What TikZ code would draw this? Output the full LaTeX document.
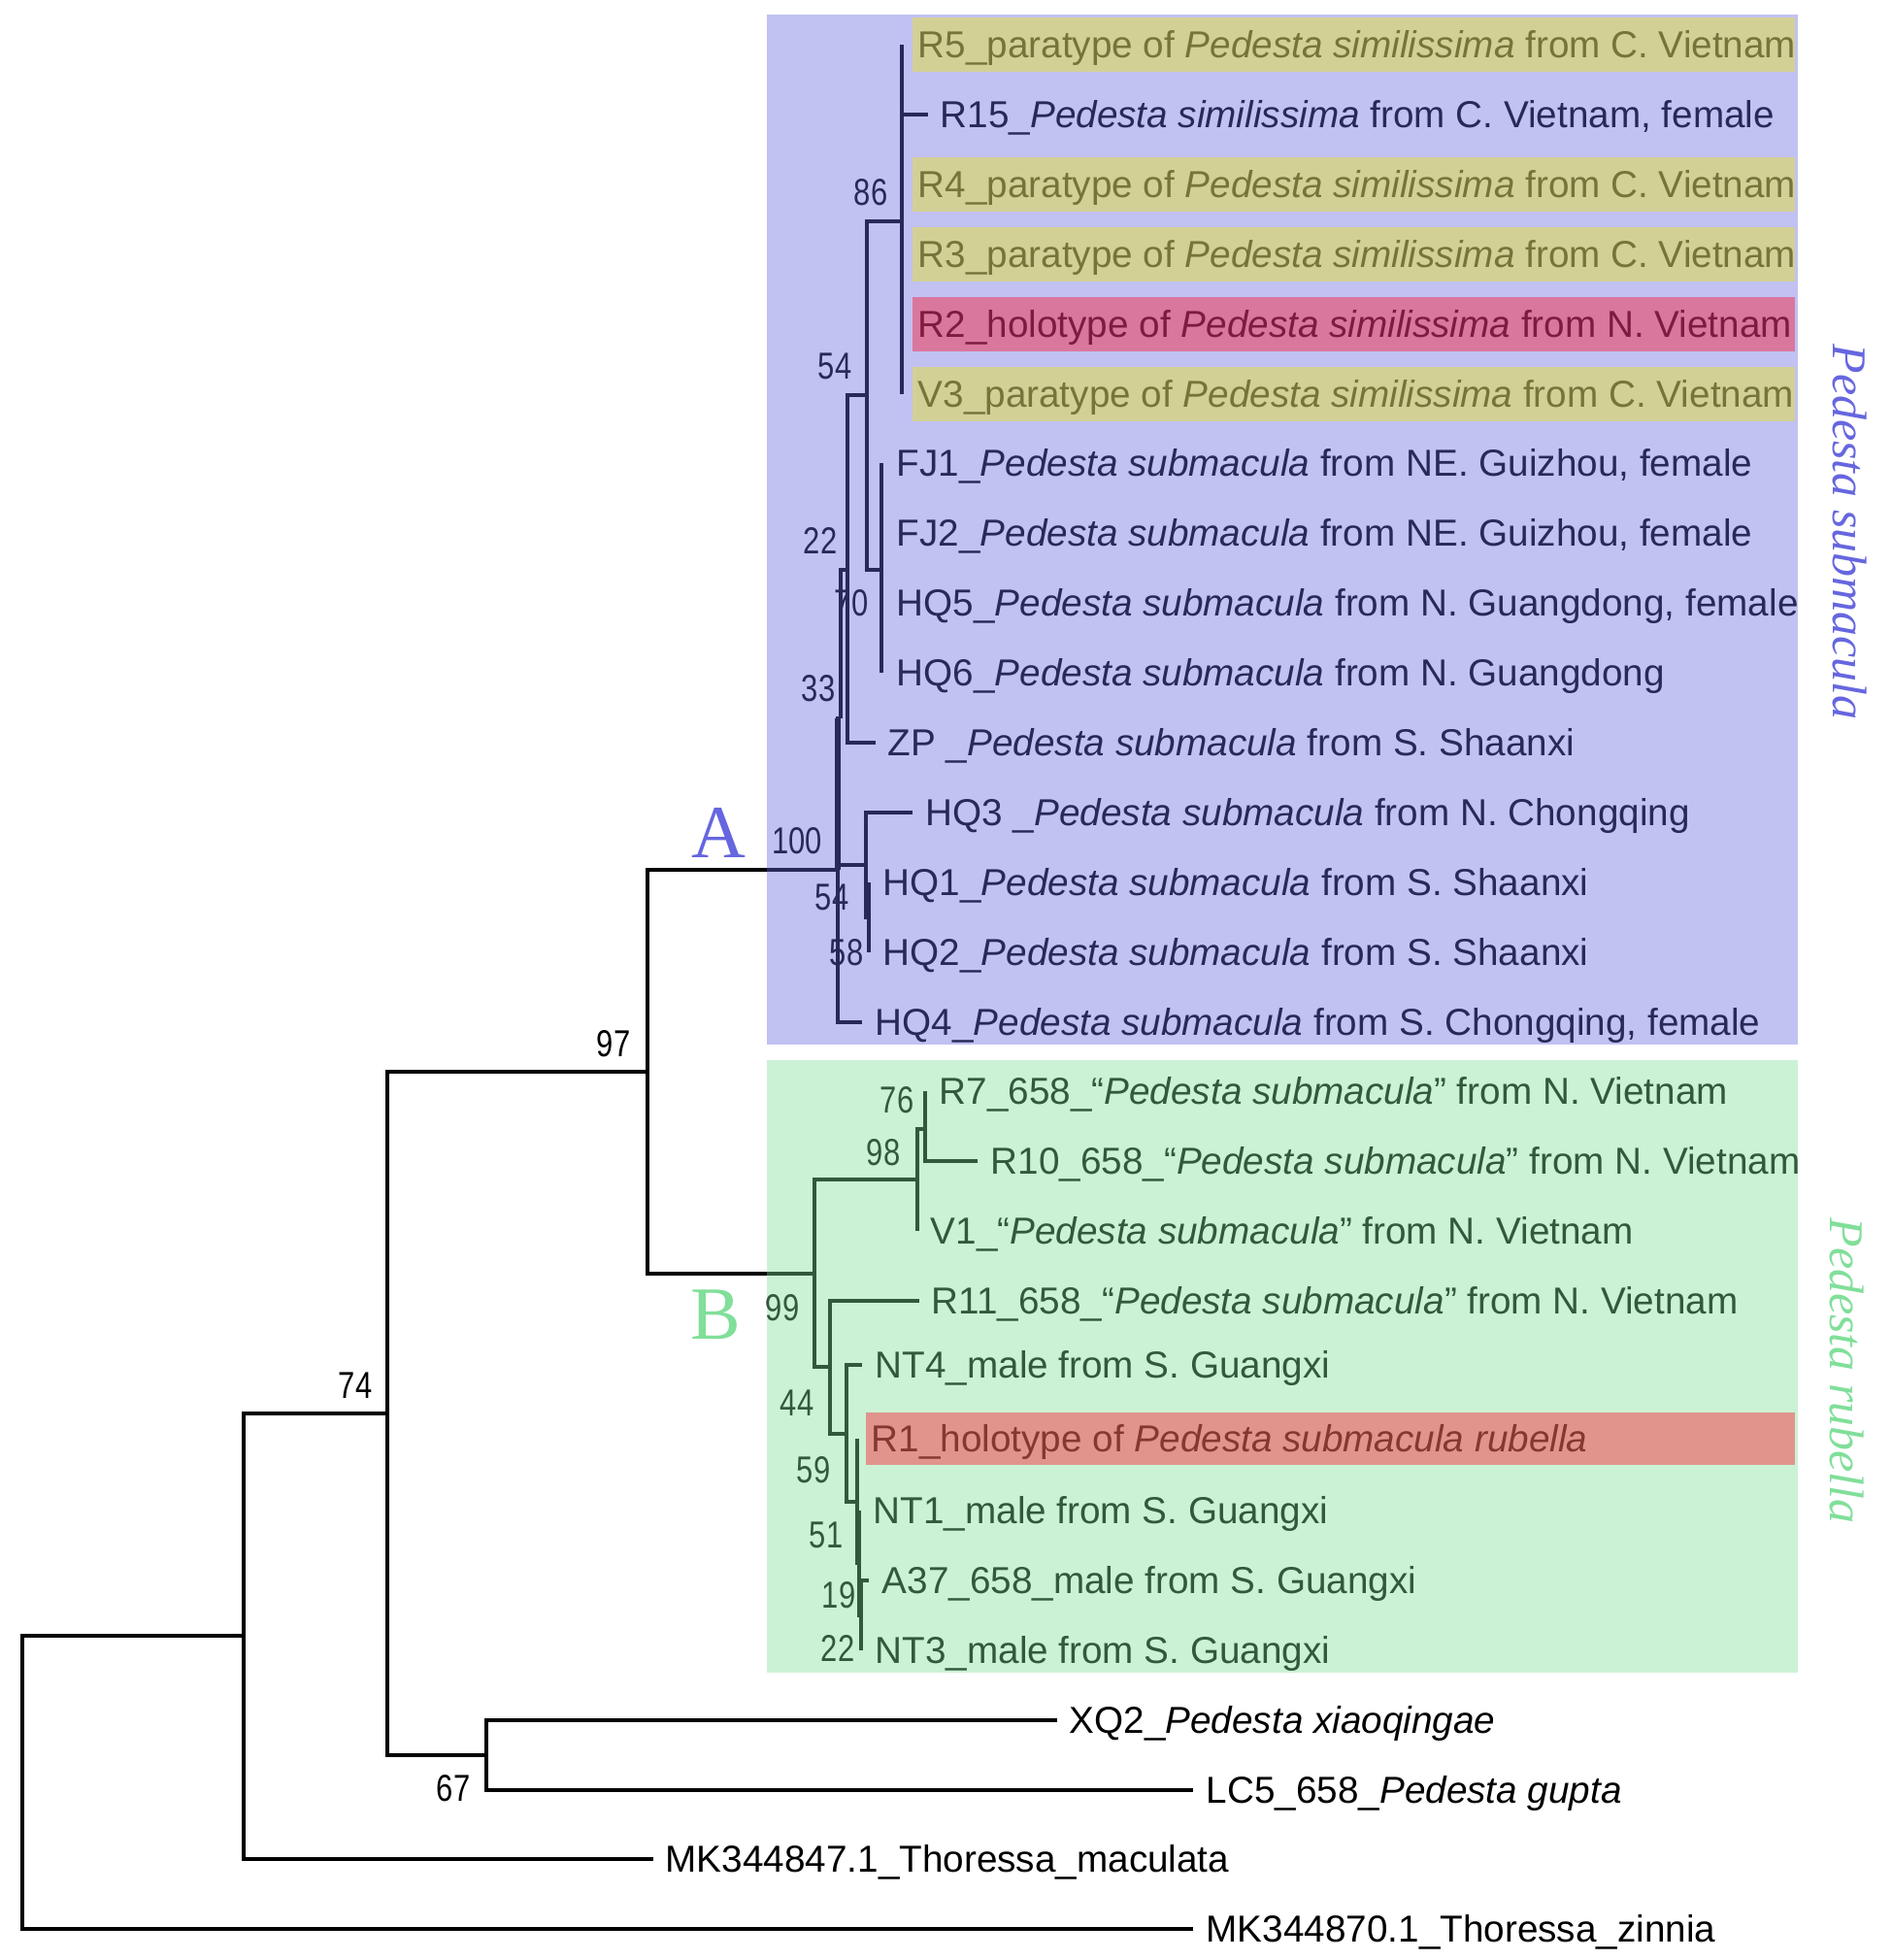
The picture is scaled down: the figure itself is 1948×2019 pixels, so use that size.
\documentclass[tikz,border=0pt]{standalone}
\usepackage{fontspec}
\setmainfont{Liberation Sans}
\newfontfamily\cladeserif{Liberation Serif}
\newfontfamily\supportsans[FakeStretch=0.8]{Liberation Sans}
\definecolor{cladeA}{RGB}{102,102,224}
\definecolor{cladeB}{RGB}{128,223,153}
\definecolor{paramark}{RGB}{238,232,13}
\definecolor{holomark}{RGB}{255,8,30}

\begin{document}
\begin{tikzpicture}[x=0.01cm, y=-0.01cm,
  branch/.style={line width=1pt},
  leaf/.style={anchor=west,inner sep=0pt,font=\fontsize{11}{13}\selectfont,text height=7.9pt,text depth=0pt},
  support/.style={inner sep=0pt,font=\supportsans\fontsize{11}{13}\selectfont,text height=7.9pt,text depth=0pt},
  shade/.style={fill opacity=0.4},
  cladeletter/.style={inner sep=0pt,font=\cladeserif\fontsize{22}{24}\selectfont,text height=14.5pt,text depth=0pt},
  cladename/.style={inner sep=0pt,rotate=-90,font=\cladeserif\itshape\fontsize{14.2}{16}\selectfont}
]
\fill[white] (0,0) rectangle (1948,2019);
\useasboundingbox (0,0) rectangle (1948,2019);

\coordinate (nroot) at (23,1836);
\coordinate (n1) at (251,1685);
\coordinate (n74) at (399,1456);
\coordinate (n67) at (501,1808);
\coordinate (n97) at (667,1104);
\coordinate (n100) at (863,896);
\coordinate (n33) at (866,740);
\coordinate (n22a) at (873,587);
\coordinate (n54a) at (893,407);
\coordinate (n86) at (929,228);
\coordinate (n70) at (908,587);
\coordinate (n54b) at (892,891);
\coordinate (n58) at (895,945);
\coordinate (n99) at (839,1312);
\coordinate (n98) at (945,1215);
\coordinate (n76) at (953,1163);
\coordinate (n44) at (855,1408);
\coordinate (n59) at (872,1477);
\coordinate (n51) at (883,1547);
\coordinate (n19) at (885,1610);
\coordinate (n22b) at (887,1664);

\coordinate (tR5) at (929,46);
\coordinate (tR15) at (956,118);
\coordinate (tR4) at (929,190);
\coordinate (tR3) at (929,262);
\coordinate (tR2) at (929,334);
\coordinate (tV3) at (929,406);
\coordinate (tFJ1) at (908,477);
\coordinate (tFJ2) at (908,549);
\coordinate (tHQ5) at (908,621);
\coordinate (tHQ6) at (908,693);
\coordinate (tZP) at (902,765);
\coordinate (tHQ3) at (940,837);
\coordinate (tHQ1) at (895,909);
\coordinate (tHQ2) at (895,981);
\coordinate (tHQ4) at (888,1053);
\coordinate (tR7) at (953,1124);
\coordinate (tR10) at (1007,1196);
\coordinate (tV1) at (945,1268);
\coordinate (tR11) at (947,1340);
\coordinate (tNT4) at (888,1406);
\coordinate (tR1) at (883,1482);
\coordinate (tNT1) at (885,1556);
\coordinate (tA37) at (895,1628);
\coordinate (tNT3) at (887,1700);
\coordinate (tXQ2) at (1089,1772);
\coordinate (tLC5) at (1229,1844);
\coordinate (tMK47) at (673,1915);
\coordinate (tMK70) at (1229,1987);

\draw[branch] (nroot) |- (n1) (nroot) |- (tMK70);
\draw[branch] (n1) |- (n74) (n1) |- (tMK47);
\draw[branch] (n74) |- (n97) (n74) |- (n67);
\draw[branch] (n67) |- (tXQ2) (n67) |- (tLC5);
\draw[branch] (n97) |- (n100) (n97) |- (n99);
\draw[branch] (n100) |- (n33) (n100) |- (n54b) (n100) |- (tHQ4);
\draw[line width=1.8pt] (n100) -- (n100 |- n33);
\draw[branch] (n33) |- (n22a);
\draw[branch] (n22a) |- (n54a) (n22a) |- (tZP);
\draw[branch] (n54a) |- (n86) (n54a) |- (n70);
\draw[branch] (n86) |- (tR5) (n86) |- (tR15) (n86) |- (tR4) (n86) |- (tR3) (n86) |- (tR2) (n86) |- (tV3);
\draw[branch] (n70) |- (tFJ1) (n70) |- (tFJ2) (n70) |- (tHQ5) (n70) |- (tHQ6);
\draw[branch] (n54b) |- (tHQ3) (n54b) |- (n58);
\draw[branch] (n58) |- (tHQ1) (n58) |- (tHQ2);
\draw[branch] (n99) |- (n98) (n99) |- (n44);
\draw[branch] (n98) |- (n76) (n98) |- (tV1);
\draw[branch] (n76) |- (tR7) (n76) |- (tR10);
\draw[branch] (n44) |- (tR11) (n44) |- (n59);
\draw[branch] (n59) |- (tNT4) (n59) |- (n51);
\draw[branch] (n51) |- (tR1) (n51) |- (n19);
\draw[branch] (n19) |- (tNT1) (n19) |- (n22b);
\draw[branch] (n22b) |- (tA37) (n22b) |- (tNT3);

\node[leaf] (lR5) at (945,46) {R5\_paratype of \textit{Pedesta similissima} from C. Vietnam};
\node[leaf] (lR15) at (968,118) {R15\_\textit{Pedesta similissima} from C. Vietnam, female};
\node[leaf] (lR4) at (945,190) {R4\_paratype of \textit{Pedesta similissima} from C. Vietnam};
\node[leaf] (lR3) at (945,262) {R3\_paratype of \textit{Pedesta similissima} from C. Vietnam};
\node[leaf] (lR2) at (945,334) {R2\_holotype of \textit{Pedesta similissima} from N. Vietnam};
\node[leaf] (lV3) at (945,406) {V3\_paratype of \textit{Pedesta similissima} from C. Vietnam};
\node[leaf] (lFJ1) at (923,477) {FJ1\_\textit{Pedesta submacula} from NE. Guizhou, female};
\node[leaf] (lFJ2) at (923,549) {FJ2\_\textit{Pedesta submacula} from NE. Guizhou, female};
\node[leaf] (lHQ5) at (923,621) {HQ5\_\textit{Pedesta submacula} from N. Guangdong, female};
\node[leaf] (lHQ6) at (923,693) {HQ6\_\textit{Pedesta submacula} from N. Guangdong};
\node[leaf] (lZP) at (914,765) {ZP \_\textit{Pedesta submacula} from S. Shaanxi};
\node[leaf] (lHQ3) at (953,837) {HQ3 \_\textit{Pedesta submacula} from N. Chongqing};
\node[leaf] (lHQ1) at (909,909) {HQ1\_\textit{Pedesta submacula} from S. Shaanxi};
\node[leaf] (lHQ2) at (909,981) {HQ2\_\textit{Pedesta submacula} from S. Shaanxi};
\node[leaf] (lHQ4) at (901,1053) {HQ4\_\textit{Pedesta submacula} from S. Chongqing, female};
\node[leaf] (lR7) at (967,1124) {R7\_658\_“\textit{Pedesta submacula}” from N. Vietnam};
\node[leaf] (lR10) at (1020,1196) {R10\_658\_“\textit{Pedesta submacula}” from N. Vietnam};
\node[leaf] (lV1) at (958,1268) {V1\_“\textit{Pedesta submacula}” from N. Vietnam};
\node[leaf] (lR11) at (959,1340) {R11\_658\_“\textit{Pedesta submacula}” from N. Vietnam};
\node[leaf] (lNT4) at (901,1406) {NT4\_male from S. Guangxi};
\node[leaf] (lR1) at (897,1482) {R1\_holotype of \textit{Pedesta submacula rubella}};
\node[leaf] (lNT1) at (899,1556) {NT1\_male from S. Guangxi};
\node[leaf] (lA37) at (908,1628) {A37\_658\_male from S. Guangxi};
\node[leaf] (lNT3) at (901,1700) {NT3\_male from S. Guangxi};
\node[leaf] (lXQ2) at (1101,1772) {XQ2\_\textit{Pedesta xiaoqingae}};
\node[leaf] (lLC5) at (1242,1844) {LC5\_658\_\textit{Pedesta gupta}};
\node[leaf] (lMK47) at (685,1915) {MK344847.1\_Thoressa\_maculata};
\node[leaf] (lMK70) at (1242,1987) {MK344870.1\_Thoressa\_zinnia};

\node[support] (s86) at (897,198) {86};
\node[support] (s54a) at (860,377) {54};
\node[support] (s22a) at (845,557) {22};
\node[support] (s70) at (877,621) {70};
\node[support] (s33) at (843,709) {33};
\node[support] (s100) at (821,866) {100};
\node[support] (s54b) at (857,924) {54};
\node[support] (s58) at (872,981) {58};
\node[support] (s97) at (632,1075) {97};
\node[support] (s74) at (366,1427) {74};
\node[support] (s67) at (467,1842) {67};
\node[support] (s76) at (924,1133) {76};
\node[support] (s98) at (910,1187) {98};
\node[support] (s99) at (806,1347) {99};
\node[support] (s44) at (821,1445) {44};
\node[support] (s59) at (838,1514) {59};
\node[support] (s51) at (851,1581) {51};
\node[support] (s19) at (864,1643) {19};
\node[support] (s22b) at (863,1698) {22};

\fill[cladeA, shade] (790,15) rectangle (1852,1076);
\fill[cladeB, shade] (790,1092) rectangle (1852,1723);
\fill[paramark, shade] (940,18) rectangle (1849,74);
\fill[paramark, shade] (940,162) rectangle (1849,218);
\fill[paramark, shade] (940,234) rectangle (1849,290);
\fill[paramark, shade] (940,378) rectangle (1849,434);
\fill[holomark, shade] (940,306) rectangle (1849,362);
\fill[holomark, shade] (892,1455) rectangle (1849,1509);

\node[cladeletter, text=cladeA] (lettA) at (740,858) {A};
\node[cladeletter, text=cladeB] (lettB) at (737,1354) {B};
\node[cladename, text=cladeA] (nameA) at (1905,548) {Pedesta submacula};
\node[cladename, text=cladeB] (nameB) at (1902,1412) {Pedesta rubella};
\end{tikzpicture}
\end{document}
